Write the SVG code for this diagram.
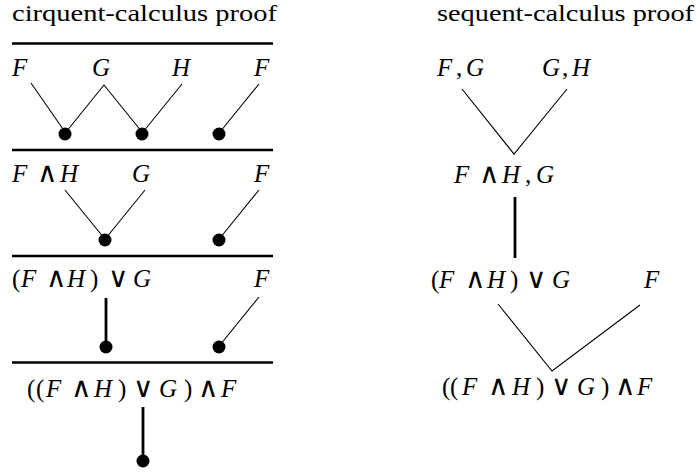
<svg xmlns="http://www.w3.org/2000/svg" width="696" height="472" viewBox="0 0 696 472" font-family="Liberation Serif, serif">
<style>
.rule{stroke:#000;stroke-width:2.6;fill:none}
.thin{stroke:#000;stroke-width:1.1;fill:none}
.thick{stroke:#000;stroke-width:2.8;fill:none}
.dot{fill:#000}
</style>
<defs>
<circle id="d" r="6.5" fill="#000"/>
</defs>
<rect width="696" height="472" fill="#fff"/>
<g id="titles" font-size="23">
<text x="12" y="21" textLength="265" lengthAdjust="spacingAndGlyphs">cirquent-calculus proof</text>
<text x="437" y="21" textLength="257" lengthAdjust="spacingAndGlyphs">sequent-calculus proof</text>
</g>
<g id="rules">
<line class="rule" x1="12" y1="43.5" x2="273" y2="43.5"/>
<line class="rule" x1="12" y1="150" x2="273" y2="150"/>
<line class="rule" x1="12" y1="256" x2="273" y2="256"/>
<line class="rule" x1="12" y1="362.5" x2="273" y2="362.5"/>
</g>
<g id="left-row1" font-size="25" font-style="italic">
<text x="12" y="76">F</text>
<text x="92" y="76">G</text>
<text x="172" y="76">H</text>
<text x="254" y="76">F</text>
</g>
<g id="left-row2" font-size="25">
<text y="182"><tspan font-style="italic" x="12">F</tspan><tspan font-family="DejaVu Serif" font-size="28" x="37">∧</tspan><tspan font-style="italic" x="60">H</tspan></text>
<text font-style="italic" x="132" y="182">G</text>
<text font-style="italic" x="254" y="182">F</text>
</g>
<g id="left-row3" font-size="25">
<text y="287"><tspan x="12">(</tspan><tspan font-style="italic" x="21">F</tspan><tspan font-family="DejaVu Serif" font-size="28" x="46">∧</tspan><tspan font-style="italic" x="67">H</tspan><tspan x="90">)</tspan><tspan font-family="DejaVu Serif" font-size="28" x="108">∨</tspan><tspan font-style="italic" x="133">G</tspan></text>
<text font-style="italic" x="254" y="287">F</text>
</g>
<g id="left-row4" font-size="25">
<text y="397"><tspan x="27">(</tspan><tspan x="36">(</tspan><tspan font-style="italic" x="46">F</tspan><tspan font-family="DejaVu Serif" font-size="28" x="71">∧</tspan><tspan font-style="italic" x="94">H</tspan><tspan x="118">)</tspan><tspan font-family="DejaVu Serif" font-size="28" x="133">∨</tspan><tspan font-style="italic" x="159">G</tspan><tspan x="184">)</tspan><tspan font-family="DejaVu Serif" font-size="28" x="198">∧</tspan><tspan font-style="italic" x="221">F</tspan></text>
</g>
<g id="right-row1" font-size="25">
<text y="76"><tspan font-style="italic" x="437">F</tspan><tspan x="456">,</tspan><tspan font-style="italic" x="466">G</tspan></text>
<text y="76"><tspan font-style="italic" x="542">G</tspan><tspan x="562">,</tspan><tspan font-style="italic" x="572">H</tspan></text>
</g>
<g id="right-row2" font-size="25">
<text y="183"><tspan font-style="italic" x="454">F</tspan><tspan font-family="DejaVu Serif" font-size="28" x="479">∧</tspan><tspan font-style="italic" x="502">H</tspan><tspan x="525">,</tspan><tspan font-style="italic" x="536">G</tspan></text>
</g>
<g id="right-row3" font-size="25">
<text y="288"><tspan x="431">(</tspan><tspan font-style="italic" x="439">F</tspan><tspan font-family="DejaVu Serif" font-size="28" x="465">∧</tspan><tspan font-style="italic" x="487">H</tspan><tspan x="510">)</tspan><tspan font-family="DejaVu Serif" font-size="28" x="526">∨</tspan><tspan font-style="italic" x="552">G</tspan></text>
<text font-style="italic" x="644" y="288">F</text>
</g>
<g id="right-row4" font-size="25">
<text y="395"><tspan x="442">(</tspan><tspan x="450">(</tspan><tspan font-style="italic" x="462">F</tspan><tspan font-family="DejaVu Serif" font-size="28" x="488">∧</tspan><tspan font-style="italic" x="512">H</tspan><tspan x="536">)</tspan><tspan font-family="DejaVu Serif" font-size="28" x="551">∨</tspan><tspan font-style="italic" x="577">G</tspan><tspan x="601">)</tspan><tspan font-family="DejaVu Serif" font-size="28" x="615">∧</tspan><tspan font-style="italic" x="637">F</tspan></text>
</g>
<g id="connectors">
<polyline class="thin" points="31,83 65,132"/>
<polyline class="thin" points="66,132 104,85 142,132"/>
<polyline class="thin" points="182,84 143,132"/>
<polyline class="thin" points="259,84 220,132"/>
<polyline class="thin" points="65,190 104,238"/>
<polyline class="thin" points="145,190 106,238"/>
<polyline class="thin" points="259,190 220,238"/>
<line class="thick" x1="106" y1="298" x2="106" y2="346"/>
<polyline class="thin" points="259,297 220,345"/>
<line class="thick" x1="143" y1="407" x2="143" y2="460"/>
<polyline class="thin" points="462,89 514,154 567,89"/>
<line class="thick" x1="515" y1="197" x2="515" y2="258"/>
<polyline class="thin" points="498,304 552,371 640,305"/>
</g>
<g id="dots">
<use href="#d" x="65" y="134"/>
<use href="#d" x="142" y="134"/>
<use href="#d" x="219" y="134"/>
<use href="#d" x="105" y="240"/>
<use href="#d" x="219" y="240"/>
<use href="#d" x="106" y="347"/>
<use href="#d" x="219" y="347"/>
<use href="#d" x="143" y="461"/>
</g>
</svg>
